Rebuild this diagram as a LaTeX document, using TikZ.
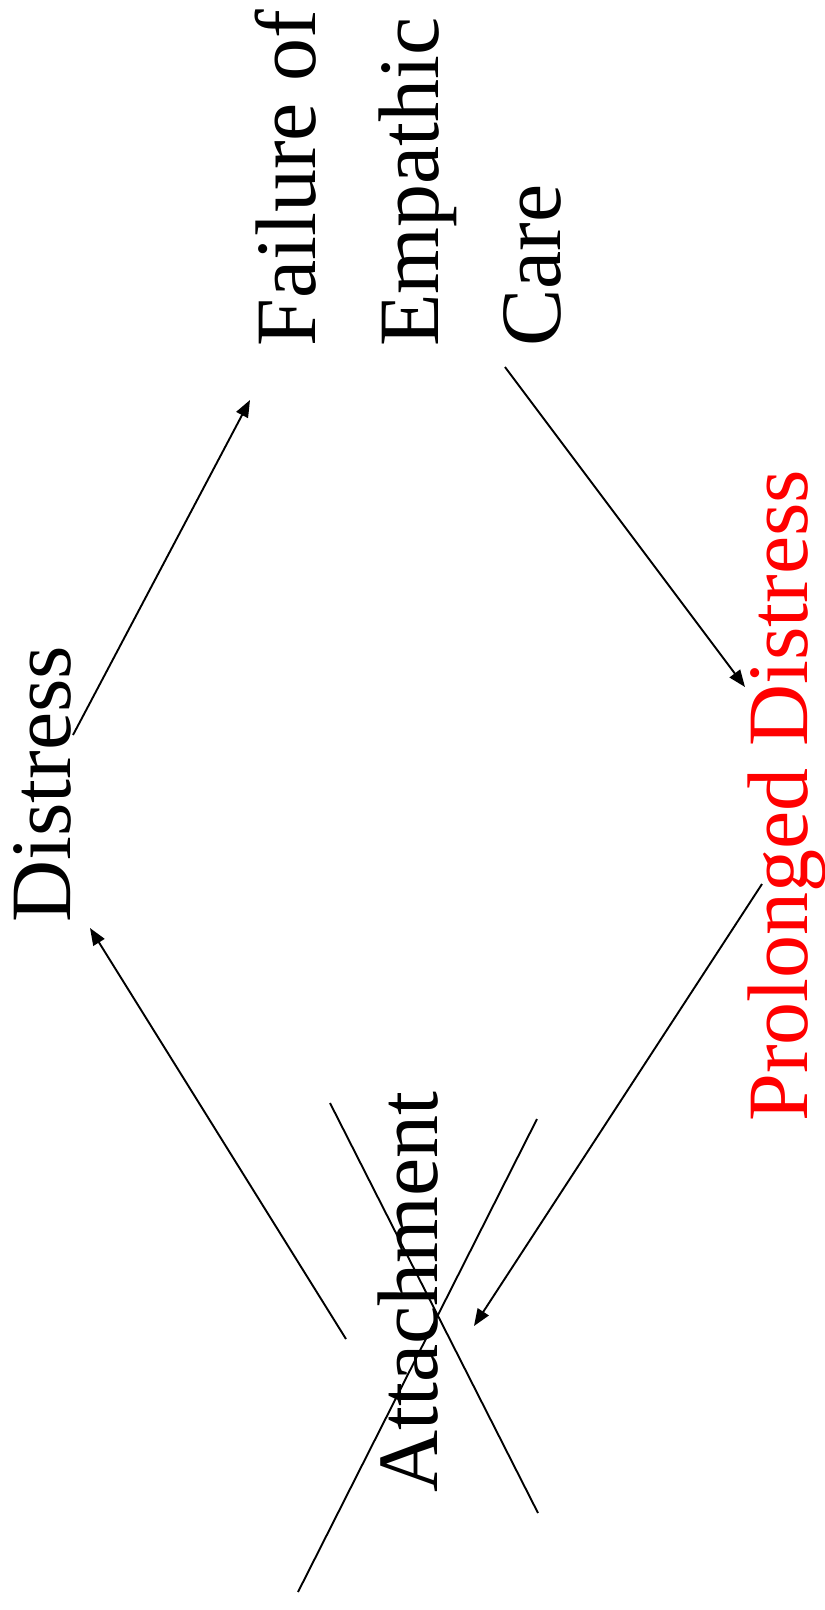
\documentclass[tikz,border=0pt]{standalone}
\usepackage{fontspec}
\setmainfont{Liberation Serif}
\usetikzlibrary{arrows.meta}
\begin{document}
\begin{tikzpicture}[x=1pt,y=-1pt,
  lbl/.style={rotate=90,anchor=base west,inner sep=0pt,font=\fontsize{86}{103}\selectfont},
  conn/.style={line width=1.9pt,-{Triangle[length=17pt,width=13pt]}},
  crossline/.style={line width=1.9pt}]
\useasboundingbox (0,0) rectangle (825,1610);
% labels
\node[lbl] (distress) at (70,923) {Distress};
\node[lbl] (failure) at (315,347) {Failure of};
\node[lbl] (empathic) at (438,347) {Empathic};
\node[lbl] (care) at (560,347) {Care};
\node[lbl,text=red] (prolonged) at (807,1122) {Prolonged Distress};
\node[lbl] (attach) at (437,1493) {Attachment};
% connector end points
\coordinate (a1s) at (73,735);   \coordinate (a1e) at (250,400);
\coordinate (a2s) at (505,367);  \coordinate (a2e) at (745,687);
\coordinate (a3s) at (762,884);  \coordinate (a3e) at (474,1326);
\coordinate (a4s) at (346,1339); \coordinate (a4e) at (90,928);
\coordinate (c1s) at (330,1103); \coordinate (c1e) at (538,1513);
\coordinate (c2s) at (537,1119); \coordinate (c2e) at (298,1592);
% arrows
\draw[conn] (a1s) -- (a1e);
\draw[conn] (a2s) -- (a2e);
\draw[conn] (a3s) -- (a3e);
\draw[conn] (a4s) -- (a4e);
% cross over Attachment
\draw[crossline] (c1s) -- (c1e);
\draw[crossline] (c2s) -- (c2e);
\end{tikzpicture}
\end{document}
